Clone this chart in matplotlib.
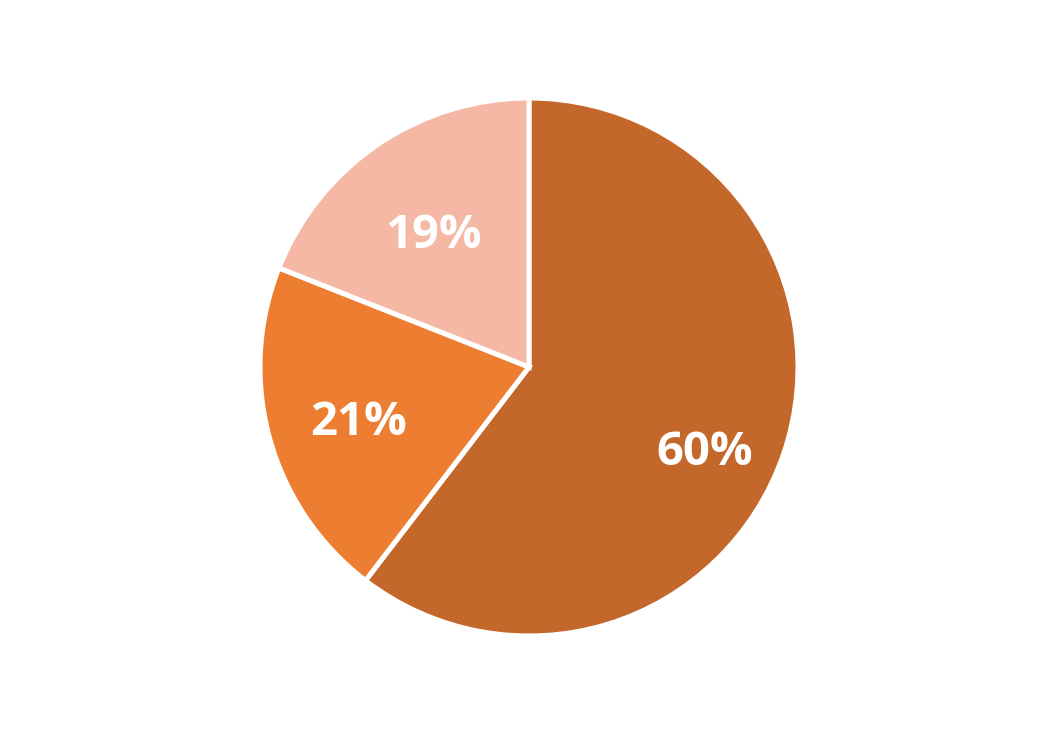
import matplotlib.pyplot as plt

# slice shares (percent)
labels = ["A", "B", "C"]
values = [60.4, 20.6, 19.0]
colors = ["#C4672A", "#ED7D31", "#F4B8A4"]

# label spots in radius units (Excel "best fit" placement)
label_pos = [(0.653, -0.318), (-0.634, -0.205), (-0.354, 0.49)]

fig = plt.figure(figsize=(10.57, 7.35), dpi=100)
ax = fig.add_axes([260 / 1057, 99 / 735, 538 / 1057, 538 / 735])

wedges, texts, autotexts = ax.pie(
    values,
    colors=colors,
    startangle=90,
    counterclock=False,
    autopct="%.0f%%",
    wedgeprops=dict(edgecolor="white", linewidth=3.6),
    textprops=dict(color="white", fontweight="bold", fontsize=34, family="Open Sans"),
)
for t, (x, y) in zip(autotexts, label_pos):
    t.set_position((x, y))
    t.set_ha("center")
    t.set_va("center")

ax.set_xlim(-1, 1)
ax.set_ylim(-1, 1)
ax.set_aspect("equal")
ax.axis("off")

fig.savefig("out.png", dpi=100)
